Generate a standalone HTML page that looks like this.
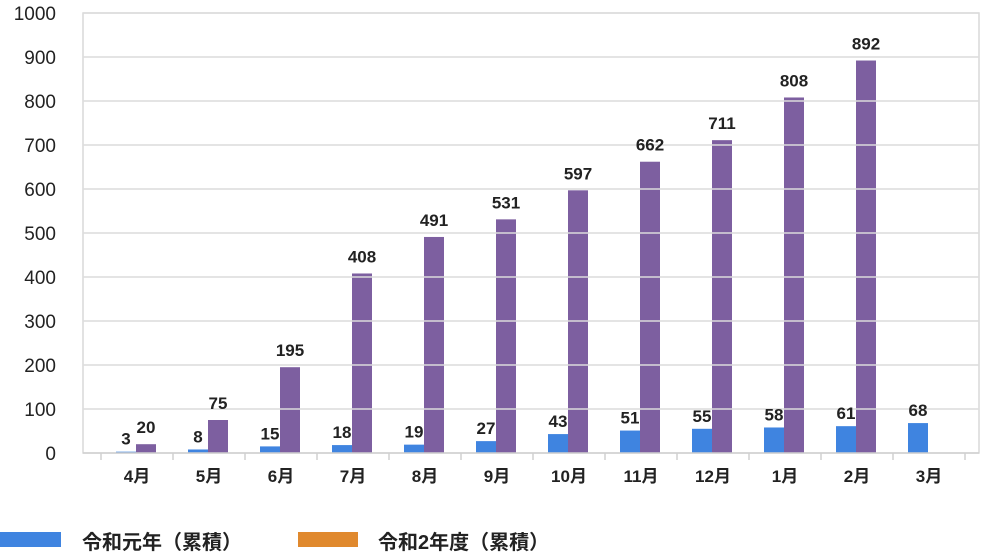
<!DOCTYPE html>
<html><head><meta charset="utf-8"><style>
html,body{margin:0;padding:0;background:#fff;width:982px;height:554px;overflow:hidden}
svg{display:block}
text{font-family:"Liberation Sans","Noto Sans CJK JP",sans-serif}
</style></head><body>
<svg id="c" width="982" height="554"></svg>
<script>
const categories=["4月","5月","6月","7月","8月","9月","10月","11月","12月","1月","2月","3月"];
const seriesR1=[3,8,15,18,19,27,43,51,55,58,61,68];
const seriesR2=[20,75,195,408,491,531,597,662,711,808,892,null];
const yTicks=[0,100,200,300,400,500,600,700,800,900,1000];
const NS="http://www.w3.org/2000/svg";
const svg=document.getElementById('c');
const X0=101,X1=965,Y0=453,Y1=13,YMAX=1000;
const step=(X1-X0)/categories.length;
function y(v){return Y0-(v/YMAX)*(Y0-Y1);}
function xc(i){return X0+step*(i+0.5);}
function mk(tag,attrs,parent){const e=document.createElementNS(NS,tag);for(const k in attrs)e.setAttribute(k,attrs[k]);(parent||svg).appendChild(e);return e;}
const frame=mk('rect',{x:83,y:13,width:896,height:440,fill:'none',stroke:'#d9d9d9','stroke-width':1.5});


categories.forEach((c,i)=>{
  const cx=xc(i);
  if(seriesR1[i]!=null){
    const b=mk('rect',{x:cx-21,y:y(seriesR1[i]),width:20,height:Y0-y(seriesR1[i]),fill:'#3f84e0'});
    
    
  }
  if(seriesR2[i]!=null){
    const b=mk('rect',{x:cx-1,y:y(seriesR2[i]),width:20,height:Y0-y(seriesR2[i]),fill:'#7d5fa0'});
    
    
  }
});
yTicks.forEach(t=>{
  if(t>0){
    const g=mk('line',{x1:83,x2:979,y1:y(t),y2:y(t),stroke:'#dcdcdc','stroke-width':1.5});
    
    
  }
  const l=mk('text',{x:56,y:y(t)+7,'text-anchor':'end','font-size':19,fill:'#222'});
  l.textContent=t;
  
  
});
const ax=mk('line',{x1:83,x2:979,y1:Y0,y2:Y0,stroke:'#d0d0d0','stroke-width':1.5});


for(let i=0;i<=categories.length;i++){
  const t=mk('line',{x1:X0+step*i,x2:X0+step*i,y1:Y0,y2:Y0+7,stroke:'#d0d0d0','stroke-width':1.5});
  
  
}
categories.forEach((c,i)=>{
  const t=mk('text',{x:xc(i),y:482,'text-anchor':'middle','font-size':17,'font-weight':'bold',fill:'#222'});
  t.textContent=c;
  
  
  if(seriesR1[i]!=null){
    const a=mk('text',{x:xc(i)-11,y:y(seriesR1[i])-7,'text-anchor':'middle','font-size':17,'font-weight':'bold',fill:'#222'});
    a.textContent=seriesR1[i];
    
    
  }
  if(seriesR2[i]!=null){
    const a=mk('text',{x:xc(i)+9,y:y(seriesR2[i])-11,'text-anchor':'middle','font-size':17,'font-weight':'bold',fill:'#222'});
    a.textContent=seriesR2[i];
    
    
  }
});
const lg=mk('g',{});


const r1=mk('rect',{x:0,y:532,width:61,height:15,fill:'#3f84e0'},lg);


const t1=mk('text',{x:82,y:549,'font-size':20,'font-weight':'bold',fill:'#222'},lg);
t1.textContent='令和元年（累積）';


const r2=mk('rect',{x:298,y:532,width:60,height:15,fill:'#e0892e'},lg);


const t2=mk('text',{x:378,y:549,'font-size':20,'font-weight':'bold',fill:'#222'},lg);
t2.textContent='令和2年度（累積）';


</script>
</body></html>
